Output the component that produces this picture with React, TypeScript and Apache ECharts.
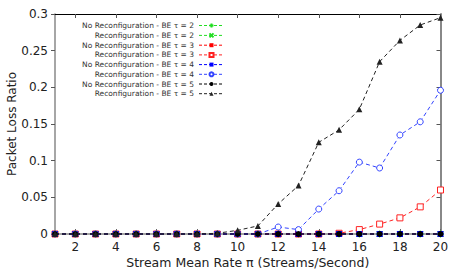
import React, { useEffect, useRef } from "react";
import * as echarts from "echarts";

const xValues = [1, 2, 3, 4, 5, 6, 7, 8, 9, 10, 11, 12, 13, 14, 15, 16, 17, 18, 19, 20];
const xTickValues = [2, 4, 6, 8, 10, 12, 14, 16, 18, 20];

const noReconfT2 = [0, 0, 0, 0, 0, 0, 0, 0, 0, 0, 0, 0, 0, 0, 0, 0, 0, 0, 0, 0];
const reconfT2 = [0, 0, 0, 0, 0, 0, 0, 0, 0, 0, 0, 0, 0, 0, 0, 0, 0, 0, 0, 0];
const noReconfT3 = [0, 0, 0, 0, 0, 0, 0, 0, 0, 0, 0, 0, 0, 0, 0, 0, 0, 0, 0, 0];
const reconfT3 = [0, 0, 0, 0, 0, 0, 0, 0, 0, 0, 0, 0, 0, 0, 0.001, 0.006, 0.0135, 0.022, 0.037, 0.06];
const noReconfT4 = [0, 0, 0, 0, 0, 0, 0, 0, 0, 0, 0, 0, 0, 0, 0, 0, 0, 0, 0, 0];
const reconfT4 = [0, 0, 0, 0, 0, 0, 0, 0, 0, 0, 0, 0.0095, 0.006, 0.034, 0.059, 0.098, 0.09, 0.135, 0.153, 0.196];
const noReconfT5 = [0, 0, 0, 0, 0, 0, 0, 0, 0, 0, 0, 0, 0, 0, 0, 0, 0, 0, 0, 0];
const reconfT5 = [0, 0, 0, 0, 0, 0, 0, 0, 0.001, 0.005, 0.011, 0.041, 0.066, 0.125, 0.142, 0.17, 0.235, 0.264, 0.285, 0.295];

const seriesNames = [
  "No Reconfiguration - BE τ = 2",
  "Reconfiguration - BE τ = 2",
  "No Reconfiguration - BE τ = 3",
  "Reconfiguration - BE τ = 3",
  "No Reconfiguration - BE τ = 4",
  "Reconfiguration - BE τ = 4",
  "No Reconfiguration - BE τ = 5",
  "Reconfiguration - BE τ = 5",
];
const seriesValues = [noReconfT2, reconfT2, noReconfT3, reconfT3, noReconfT4, reconfT4, noReconfT5, reconfT5];

const FONT = "DejaVu Sans";
const PLUS = "path://M0,5L10,5M5,0L5,10";
const CROSS = "path://M0,0L10,10M10,0L0,10";

const styles = [
  { color: "#22dd22", symbol: PLUS, size: 7, fill: "none", stroke: true },
  { color: "#22dd22", symbol: CROSS, size: 6, fill: "none", stroke: true },
  { color: "#ff0000", symbol: "rect", size: 5, fill: "#ff0000", stroke: false },
  { color: "#ff2222", symbol: "rect", size: 6, fill: "#ffffff", stroke: true },
  { color: "#0000ff", symbol: "rect", size: 6, fill: "#0000ff", stroke: false },
  { color: "#3344ff", symbol: "circle", size: 6, fill: "#ffffff", stroke: true },
  { color: "#000000", symbol: "circle", size: 6, fill: "#000000", stroke: false },
  { color: "#222222", symbol: "triangle", size: 6, fill: "#222222", stroke: false },
];

export default function App() {
  const ref = useRef<HTMLDivElement>(null);
  useEffect(() => {
    const chart = echarts.init(ref.current!, null, { renderer: "svg" });
    const series = seriesNames.map((name, i) => {
      const s = styles[i];
      return {
        name,
        type: "line",
        data: xValues.map((x, j) => [x, seriesValues[i][j]]),
        symbol: s.symbol,
        symbolSize: s.size,
        showSymbol: true,
        lineStyle: { color: s.color, width: 1, type: [4, 3] },
        itemStyle: {
          color: s.fill,
          borderColor: s.color,
          borderWidth: s.stroke ? 1 : 0,
        },
        emphasis: { disabled: true },
        clip: false,
        z: 3 + i,
      };
    });
    chart.setOption({
      animation: false,
      textStyle: { fontFamily: FONT },
      grid: { left: 55, right: 16.5, top: 14, bottom: 40, containLabel: false, outerBoundsMode: "none" },
      legend: {
        orient: "vertical",
        left: 66,
        top: 16,
        align: "right",
        itemWidth: 25,
        itemHeight: 5,
        itemGap: 0.9,
        selectedMode: false,
        data: seriesNames,
        lineStyle: { width: 1, type: [3, 2] },
        formatter: (n: string) => `{a|${n}}`,
        textStyle: {
          fontFamily: FONT,
          fontSize: 7.5,
          color: "#333",
          rich: { a: { width: 123, height: 8.8, lineHeight: 8.8, align: "right", fontSize: 7.5, fontFamily: FONT, color: "#333" } },
        },
      },
      xAxis: [
        {
          type: "value",
          min: 1,
          max: 20,
          position: "bottom",
          name: "Stream Mean Rate π (Streams/Second)",
          nameLocation: "middle",
          nameGap: 22,
          nameMoveOverlap: false,
          nameTextStyle: { fontFamily: FONT, fontSize: 12.5, color: "#222" },
          axisLine: { show: true, lineStyle: { color: "#888", width: 1.5 } },
          axisTick: { show: true, inside: true, length: 5, customValues: xTickValues, lineStyle: { color: "#666" } },
          axisLabel: { customValues: xTickValues, fontFamily: FONT, fontSize: 12, color: "#222", margin: 7 },
          splitLine: { show: false },
        },
        {
          type: "value",
          min: 1,
          max: 20,
          position: "top",
          axisLine: { show: true, onZero: false, lineStyle: { color: "#000", width: 1 } },
          axisTick: { show: true, inside: true, length: 4, customValues: xTickValues, lineStyle: { color: "#555" } },
          axisLabel: { show: false },
          splitLine: { show: false },
        },
      ],
      yAxis: [
        {
          type: "value",
          min: 0,
          max: 0.3,
          interval: 0.05,
          position: "left",
          name: "Packet Loss Ratio",
          nameLocation: "middle",
          nameGap: 37,
          nameMoveOverlap: false,
          nameTextStyle: { fontFamily: FONT, fontSize: 12, color: "#222" },
          axisLine: { show: true, lineStyle: { color: "#888", width: 1.5 } },
          axisTick: { show: true, inside: false, length: 4, lineStyle: { color: "#555" } },
          axisLabel: { fontFamily: FONT, fontSize: 12, color: "#222", margin: 7 },
          splitLine: { show: false },
        },
        {
          type: "value",
          min: 0,
          max: 0.3,
          interval: 0.05,
          position: "right",
          axisLine: { show: true, onZero: false, lineStyle: { color: "#888", width: 2 } },
          axisTick: { show: true, inside: true, length: 4, lineStyle: { color: "#555" } },
          axisLabel: { show: false },
          splitLine: { show: false },
        },
      ],
      series,
    });
    return () => chart.dispose();
  }, []);
  return <div ref={ref} style={{ width: 457, height: 274, position: "absolute", left: 0, top: 0 }} />;
}
